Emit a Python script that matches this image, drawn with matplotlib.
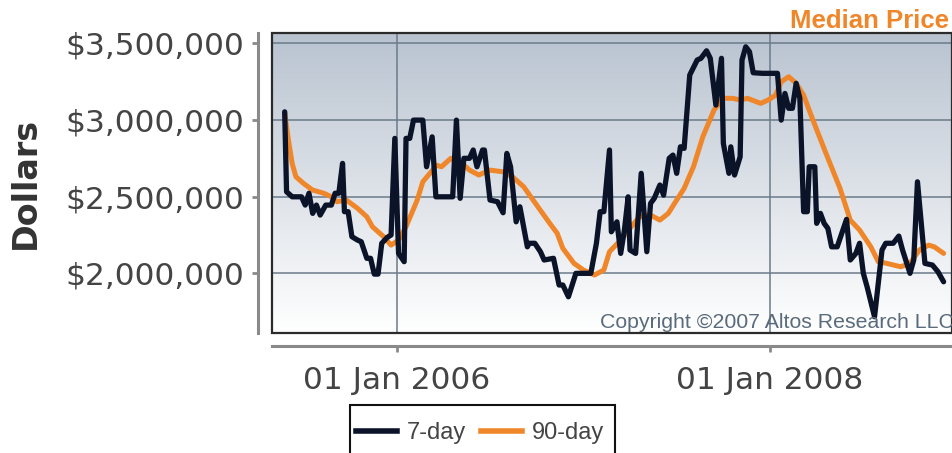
import matplotlib
matplotlib.use("Agg")
import matplotlib.pyplot as plt
import numpy as np
from matplotlib.patches import Rectangle
from matplotlib.lines import Line2D

# 7-day median price (decimal year, thousands of dollars)
t7 = [2005.40, 2005.41, 2005.44, 2005.49, 2005.51, 2005.53, 2005.55, 2005.57, 2005.59, 2005.62,
      2005.65, 2005.67, 2005.69, 2005.71, 2005.72, 2005.74, 2005.76, 2005.79, 2005.81, 2005.84,
      2005.86, 2005.88, 2005.90, 2005.92, 2005.95, 2005.97, 2005.99, 2006.01, 2006.04, 2006.05,
      2006.07, 2006.09, 2006.14, 2006.16, 2006.19, 2006.21, 2006.30, 2006.32, 2006.34, 2006.36,
      2006.39, 2006.41, 2006.43, 2006.46, 2006.47, 2006.50, 2006.54, 2006.57, 2006.59, 2006.61,
      2006.64, 2006.66, 2006.70, 2006.71, 2006.74, 2006.77, 2006.79, 2006.84, 2006.87, 2006.89,
      2006.92, 2006.96, 2007.04, 2007.07, 2007.09, 2007.11, 2007.14, 2007.15, 2007.18, 2007.20,
      2007.22, 2007.24, 2007.25, 2007.28, 2007.31, 2007.34, 2007.36, 2007.38, 2007.41, 2007.43,
      2007.46, 2007.48, 2007.50, 2007.52, 2007.54, 2007.57, 2007.61, 2007.63, 2007.66, 2007.68,
      2007.71, 2007.74, 2007.75, 2007.78, 2007.79, 2007.81, 2007.84, 2007.85, 2007.87, 2007.89,
      2007.91, 2007.96, 2008.04, 2008.06, 2008.08, 2008.10, 2008.12, 2008.14, 2008.16, 2008.18,
      2008.20, 2008.21, 2008.24, 2008.25, 2008.27, 2008.29, 2008.31, 2008.33, 2008.36, 2008.41,
      2008.43, 2008.46, 2008.48, 2008.50, 2008.52, 2008.56, 2008.58, 2008.60, 2008.62, 2008.66,
      2008.69, 2008.71, 2008.75, 2008.77, 2008.79, 2008.83, 2008.87, 2008.90, 2008.93]
v7 = [3053, 2532, 2499, 2499, 2445, 2522, 2391, 2445, 2380, 2445,
      2445, 2522, 2522, 2717, 2402, 2402, 2239, 2217, 2206, 2098,
      2098, 1995, 1995, 2196, 2235, 2250, 2880, 2130, 2076, 2880,
      2880, 2999, 2999, 2695, 2890, 2499, 2499, 2999, 2489, 2750,
      2750, 2804, 2695, 2804, 2804, 2478, 2467, 2395, 2782, 2695,
      2336, 2434, 2173, 2196, 2196, 2141, 2087, 2098, 1924, 1924,
      1847, 2000, 2000, 2196, 2402, 2402, 2804, 2271, 2336, 2130,
      2282, 2499, 2152, 2130, 2652, 2141, 2456, 2489, 2576, 2510,
      2750, 2771, 2652, 2825, 2815, 3293, 3391, 3402, 3451, 3402,
      3097, 3402, 2847, 2652, 2825, 2641, 2760, 3391, 3477, 3445,
      3308, 3304, 3304, 2999, 3173, 3076, 3076, 3239, 3141, 2402,
      2402, 2695, 2695, 2326, 2391, 2326, 2293, 2173, 2173, 2352,
      2087, 2130, 2196, 2000, 1913, 1717, 1935, 2152, 2196, 2196,
      2243, 2152, 2000, 2087, 2597, 2065, 2054, 2010, 1945]

# 90-day median price
t90 = [2005.40, 2005.42, 2005.44, 2005.46, 2005.50, 2005.55, 2005.61, 2005.65, 2005.68, 2005.73,
       2005.79, 2005.84, 2005.87, 2005.93, 2005.97, 2006.01, 2006.05, 2006.11, 2006.14, 2006.20,
       2006.21, 2006.24, 2006.29, 2006.32, 2006.36, 2006.39, 2006.44, 2006.46, 2006.50, 2006.57,
       2006.62, 2006.68, 2006.75, 2006.82, 2006.86, 2006.89, 2006.95, 2007.00, 2007.06, 2007.11,
       2007.14, 2007.20, 2007.25, 2007.30, 2007.36, 2007.41, 2007.455, 2007.50, 2007.54, 2007.59,
       2007.64, 2007.70, 2007.75, 2007.80, 2007.84, 2007.88, 2007.95, 2007.99, 2008.03, 2008.06,
       2008.10, 2008.14, 2008.18, 2008.23, 2008.30, 2008.375, 2008.43, 2008.48, 2008.54, 2008.58,
       2008.625, 2008.70, 2008.75, 2008.80, 2008.85, 2008.88, 2008.93]
v90 = [3043, 2869, 2717, 2630, 2587, 2543, 2522, 2499, 2467, 2478,
       2424, 2369, 2304, 2239, 2184, 2217, 2304, 2478, 2597, 2684,
       2706, 2695, 2750, 2728, 2706, 2673, 2641, 2652, 2673, 2662,
       2630, 2565, 2445, 2326, 2261, 2163, 2065, 2022, 1989, 2022,
       2141, 2217, 2293, 2369, 2380, 2347, 2391, 2478, 2554, 2695,
       2890, 3065, 3141, 3141, 3130, 3141, 3108, 3130, 3162, 3249,
       3282, 3239, 3162, 2999, 2782, 2554, 2347, 2282, 2173, 2076,
       2065, 2043, 2065, 2152, 2184, 2173, 2130]

yticks = [2000000, 2500000, 3000000, 3500000]
ytick_labels = ["$2,000,000", "$2,500,000", "$3,000,000", "$3,500,000"]
xticks = [2006.0, 2008.0]
xtick_labels = ["01 Jan 2006", "01 Jan 2008"]

fig = plt.figure(figsize=(9.52, 4.53), dpi=100)
ax = fig.add_axes([272/952, 120/453, 680/952, 300/453])

x0, x1 = 2005.332, 2008.975
y0, y1 = 1611000, 3567000
ax.set_xlim(x0, x1)
ax.set_ylim(y0, y1)

# gradient background
grad = np.linspace(0, 1, 256)
top = np.array([0.725, 0.765, 0.815])
bot = np.array([1.0, 1.0, 1.0])
img = bot[None, :] + (top - bot)[None, :] * grad[:, None]
img = img[:, None, :]
ax.imshow(img, extent=[x0, x1, y0, y1], aspect="auto", origin="lower", zorder=0)

ax.set_yticks(yticks)
ax.set_yticklabels(ytick_labels)
ax.set_xticks(xticks)
ax.set_xticklabels(xtick_labels)
ax.grid(True, color="#6b7b8a", linewidth=1.1, zorder=1)
ax.set_axisbelow(False)

ax.plot(np.array(t90), np.array(v90) * 1000, color="#f0862a", lw=3.6, zorder=3,
        solid_joinstyle="round", solid_capstyle="round")
ax.plot(np.array(t7), np.array(v7) * 1000, color="#0b1329", lw=3.8, zorder=4,
        solid_joinstyle="round", solid_capstyle="round")

# frame of the plot area
ax.add_patch(Rectangle((0, 0), 1, 1, transform=ax.transAxes, fill=False,
                       edgecolor="#2b2b2b", lw=1.6, zorder=5, clip_on=False))

for s in ["top", "right"]:
    ax.spines[s].set_visible(False)
ax.spines["left"].set_position(("outward", 10))
ax.spines["bottom"].set_position(("outward", 9.5))
for s in ["left", "bottom"]:
    ax.spines[s].set_color("#8a8a8a")
    ax.spines[s].set_linewidth(2.2)
ax.tick_params(axis="both", colors="#8a8a8a", width=2, length=4, labelcolor="#444444",
               labelsize=22.5)
ax.tick_params(axis="y", pad=6)
ax.tick_params(axis="x", pad=10)

ax.set_ylabel("Dollars", fontsize=24, fontweight="bold", color="#333333")
ax.yaxis.set_label_coords(-0.338, 0.5)

fig.text(949/952, 1 - 28/453, "Median Price", ha="right", va="baseline",
         fontsize=18.5, fontweight="bold", color="#f0862a", family="Liberation Sans")
fig.text(600/952, 1 - 322/453, "Copyright \u00a92007 Altos Research LLC", ha="left",
         va="center", fontsize=15.3, color="#5a6b7c", family="Liberation Sans", zorder=6)

# legend box runs off the bottom of the image, as in the original
fig.patches.append(Rectangle((350/952, -0.05), 265/952, 0.05 + 48/453, transform=fig.transFigure,
                             fill=False, edgecolor="#111111", lw=1.5))
handles = [Line2D([], [], color="#0b1329", lw=4), Line2D([], [], color="#f0862a", lw=4)]
leg = fig.legend(handles, ["7-day", "90-day"], loc="center left",
                 bbox_to_anchor=(356/952, 1 - 433/453), ncol=2, frameon=False,
                 prop={"family": "Liberation Sans", "size": 17}, handlelength=1.75,
                 handletextpad=0.42, columnspacing=0.6, borderpad=0, borderaxespad=0)
for t in leg.get_texts():
    t.set_color("#444444")

fig.savefig("out.png", dpi=100)
